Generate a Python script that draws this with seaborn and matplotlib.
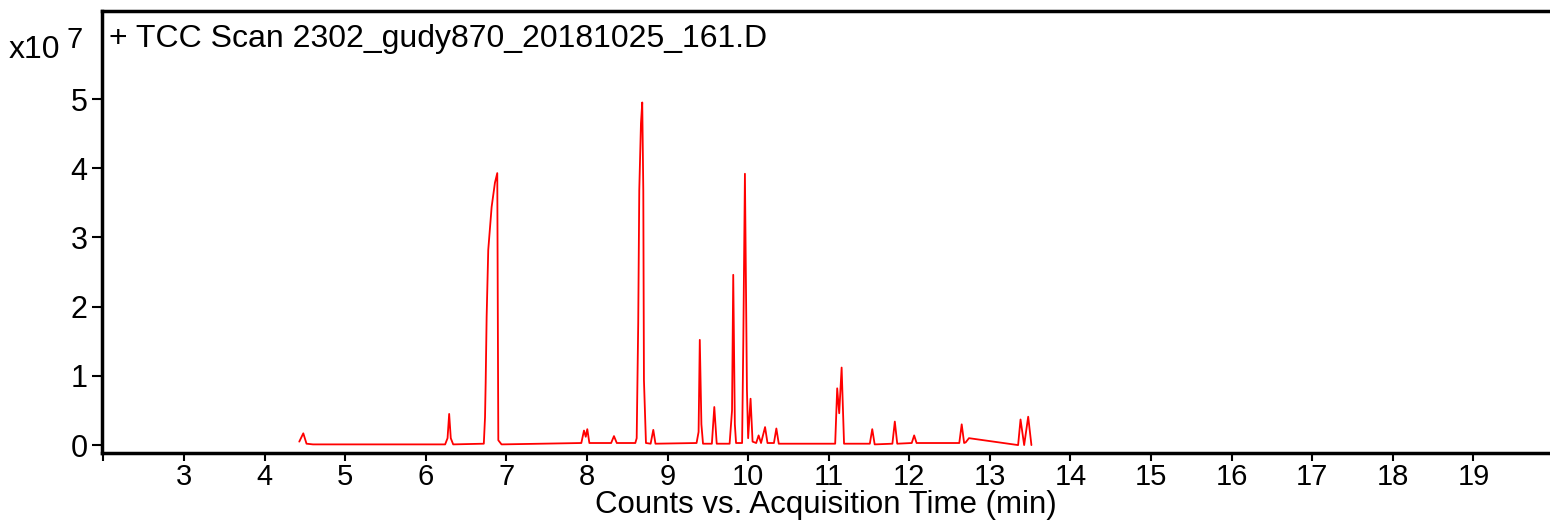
import matplotlib
matplotlib.use("Agg")
import matplotlib.pyplot as plt
import seaborn as sns
import pandas as pd

# Retention time (min) and counts (x10^7)
rt = [4.43, 4.48, 4.52, 4.60, 6.24, 6.27, 6.29, 6.31, 6.34,
      6.72, 6.735, 6.743, 6.755, 6.775, 6.817, 6.858, 6.887, 6.895, 6.90, 6.94,
      7.93, 7.963, 7.985, 8.004, 8.03, 8.30, 8.335, 8.37,
      8.60, 8.617, 8.636, 8.649, 8.670, 8.686, 8.699, 8.707, 8.732,
      8.79, 8.823, 8.85, 9.36, 9.385, 9.40, 9.42, 9.44,
      9.55, 9.58, 9.61, 9.77, 9.80, 9.815, 9.835, 9.85,
      9.925, 9.94, 9.96, 9.985, 10.00, 10.03, 10.055,
      10.10, 10.13, 10.16, 10.21, 10.24, 10.32, 10.35, 10.38,
      11.08, 11.105, 11.13, 11.16, 11.19, 11.51, 11.54, 11.57,
      11.79, 11.82, 11.85, 12.03, 12.06, 12.09,
      12.62, 12.65, 12.68, 12.70, 12.74, 13.35, 13.38, 13.425, 13.475, 13.515]
counts = [0.05, 0.17, 0.02, 0.01, 0.01, 0.10, 0.45, 0.10, 0.01,
          0.02, 0.40, 0.90, 1.85, 2.82, 3.44, 3.79, 3.93, 1.50, 0.07, 0.01,
          0.03, 0.21, 0.12, 0.23, 0.03, 0.03, 0.13, 0.03,
          0.03, 0.10, 1.76, 3.68, 4.65, 4.95, 3.68, 0.94, 0.03,
          0.02, 0.22, 0.02, 0.03, 0.19, 1.52, 0.30, 0.02,
          0.02, 0.55, 0.02, 0.02, 0.50, 2.46, 0.30, 0.03,
          0.03, 1.50, 3.92, 0.80, 0.10, 0.67, 0.05,
          0.03, 0.14, 0.03, 0.26, 0.03, 0.03, 0.24, 0.02,
          0.02, 0.82, 0.46, 1.12, 0.02, 0.02, 0.23, 0.01,
          0.02, 0.34, 0.02, 0.03, 0.14, 0.03,
          0.03, 0.30, 0.03, 0.04, 0.10, 0.00, 0.37, 0.00, 0.41, 0.00]

x_ticks = list(range(2, 20))
x_tick_labels = [""] + [str(v) for v in range(3, 20)]
y_ticks = [0, 1, 2, 3, 4, 5]
title_text = "+ TCC Scan 2302_gudy870_20181025_161.D"
x_label = "Counts vs. Acquisition Time (min)"

sns.set_style("white")
plt.rcParams["font.family"] = ["Liberation Sans", "DejaVu Sans"]
plt.rcParams["text.color"] = "black"
plt.rcParams["axes.labelcolor"] = "black"

fig = plt.figure(figsize=(15.5, 5.23), dpi=100)
ax = fig.add_axes([101.5 / 1550, 1 - 452.7 / 523, 1 - 101.5 / 1550, (452.7 - 10.7) / 523])

df = pd.DataFrame({"rt": rt, "counts": counts})
sns.lineplot(data=df, x="rt", y="counts", color="#ff0000", linewidth=1.3,
             estimator=None, sort=False, ax=ax)

ax.set_xlim(1.976, 19.95)
ax.set_ylim(-0.11, 6.276)
ax.set_xticks(x_ticks)
ax.set_xticklabels(x_tick_labels)
ax.set_yticks(y_ticks)
ax.set_yticklabels([str(v) for v in y_ticks])
ax.tick_params(axis="x", direction="out", length=6, width=1.5, labelsize=21, pad=1.5,
               bottom=True, colors="black")
ax.tick_params(axis="y", direction="out", length=7, width=1.5, labelsize=22, pad=3,
               left=True, colors="black")
ax.set_xlabel(x_label, fontsize=22.5, labelpad=-1, color="black")
ax.set_ylabel("")

for side in ["left", "bottom", "top"]:
    ax.spines[side].set_visible(True)
    ax.spines[side].set_linewidth(2.5)
    ax.spines[side].set_color("black")
ax.spines["right"].set_visible(False)

ax.text(0.005, 0.97, title_text, transform=ax.transAxes, fontsize=23,
        ha="left", va="top", color="black")
fig.text(9 / 1550, 1 - 58 / 523, "x10", fontsize=23, ha="left", va="baseline", color="black")
fig.text(67 / 1550, 1 - 48 / 523, "7", fontsize=21, ha="left", va="baseline", color="black")

fig.savefig("out.png", dpi=100)
